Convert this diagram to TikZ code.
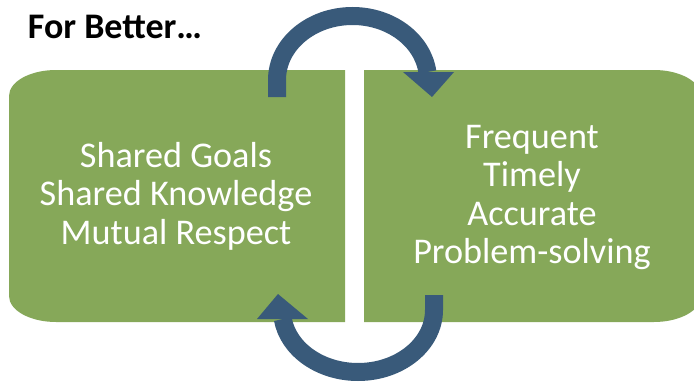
\documentclass[tikz,border=0pt]{standalone}
\usepackage{fontspec}
\setmainfont{Carlito}
\definecolor{boxgreen}{HTML}{86A859}
\definecolor{arrowblue}{HTML}{395A7A}
\tikzset{
  boxtext/.style={text=white, align=center, font=\fontsize{36.2}{38.5}\selectfont, inner sep=0pt},
  arcstroke/.style={draw=arrowblue, line width=18pt},
  arrowhead/.style={fill=arrowblue}
}
\begin{document}
\begin{tikzpicture}[x=1pt,y=1pt]
\useasboundingbox (0,0) rectangle (694,384);
\begin{scope}
\clip (0,0) rectangle (694,384);
% left box
\fill[boxgreen] (345,314) -- (56,314) arc[start angle=90,end angle=180,x radius=47,y radius=26]
  -- (9,88) arc[start angle=180,end angle=270,x radius=47,y radius=26] -- (345,62) -- cycle;
% right box
\fill[boxgreen] (364,314) -- (654,314) arc[start angle=90,end angle=0,x radius=47,y radius=26]
  -- (701,88) arc[start angle=0,end angle=-90,x radius=47,y radius=26] -- (364,62) -- cycle;
\end{scope}
% top arrow
\draw[arcstroke] (277,287) -- (277,304) arc[start angle=180,end angle=7.2,x radius=75.5,y radius=64];
\fill[arrowhead] (403,312) -- (454,312) -- (432,287) -- cycle;
% bottom arrow
\draw[arcstroke] (434,89) -- (434,74) arc[start angle=0,end angle=-171.7,x radius=76,y radius=62];
\fill[arrowhead] (257,65) -- (308,65) -- (278,90) -- cycle;
% texts
\node[boxtext] (left) at (176,188) {Shared Goals\\Shared Knowledge\\Mutual Respect};
\node[boxtext] (right) at (532,186.5) {Frequent\\Timely\\Accurate\\Problem-solving};
\node[font=\fontsize{36}{40}\selectfont\bfseries, inner sep=0pt] (title) at (115,357) {For Better…};
\end{tikzpicture}
\end{document}
